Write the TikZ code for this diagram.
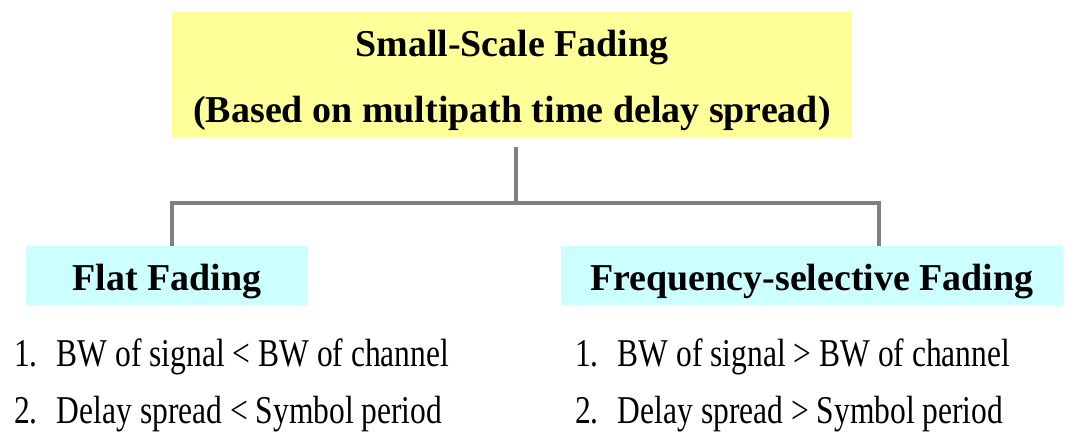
\documentclass[tikz,border=0pt]{standalone}
\usepackage{fontspec}
\setmainfont{Liberation Serif}
\usetikzlibrary{calc}

\definecolor{titleyellow}{HTML}{FFFF99}
\definecolor{boxcyan}{HTML}{CCFFFF}
\definecolor{linkgray}{HTML}{808080}

\tikzset{
    link/.style={draw=linkgray, line width=2.8pt},
    titlebox/.style={fill=titleyellow, inner sep=0pt, align=center,
        minimum width=17cm, minimum height=3.15cm,
        font=\fontsize{27}{32}\selectfont\bfseries},
    headbox/.style={fill=boxcyan, inner sep=0pt, minimum height=1.475cm,
        text height=26pt, text depth=4.4pt,
        font=\fontsize{27}{32}\selectfont\bfseries},
    itemtext/.style={anchor=west, inner sep=0pt, xscale=0.8, transform shape,
        font=\fontsize{28}{34}\selectfont}
}

\begin{document}
\begin{tikzpicture}[x=0.025cm, y=0.025cm]
    \useasboundingbox (0,0) rectangle (1076,432);

    \def\gap{\hspace{17pt}}  % space after the item number

    % Points where the tree branches
    \coordinate (hub) at (516, 229);
    \coordinate (L) at (172, 229);
    \coordinate (R) at (879, 229);

    % Creates the boxes
    \node[titlebox] (top) at (512, 357)
        {\rule{0pt}{26pt}Small-Scale Fading\\[15pt](Based on multipath time delay spread)};
    \node[headbox, minimum width=7.05cm] (flat) at (167, 156.5) {Flat Fading};
    \node[headbox, minimum width=12.55cm] (fsf) at (812, 156.5) {Frequency-selective Fading};

    % Draw the tree lines
    \draw[link] ($(top.south)+(4,-9)$) -- (hub);
    \draw[link] (flat.north -| L) -- (L) -- (R) -- (fsf.north -| R);

    % Properties of each kind
    \node[itemtext] (flat1) at (14, 75) {1.\gap BW of signal < BW of channel};
    \node[itemtext] (flat2) at (14, 18) {2.\gap Delay spread < Symbol period};
    \node[itemtext] (fsf1) at (575, 75) {1.\gap BW of signal > BW of channel};
    \node[itemtext] (fsf2) at (575, 18) {2.\gap Delay spread > Symbol period};

\end{tikzpicture}
\end{document}
